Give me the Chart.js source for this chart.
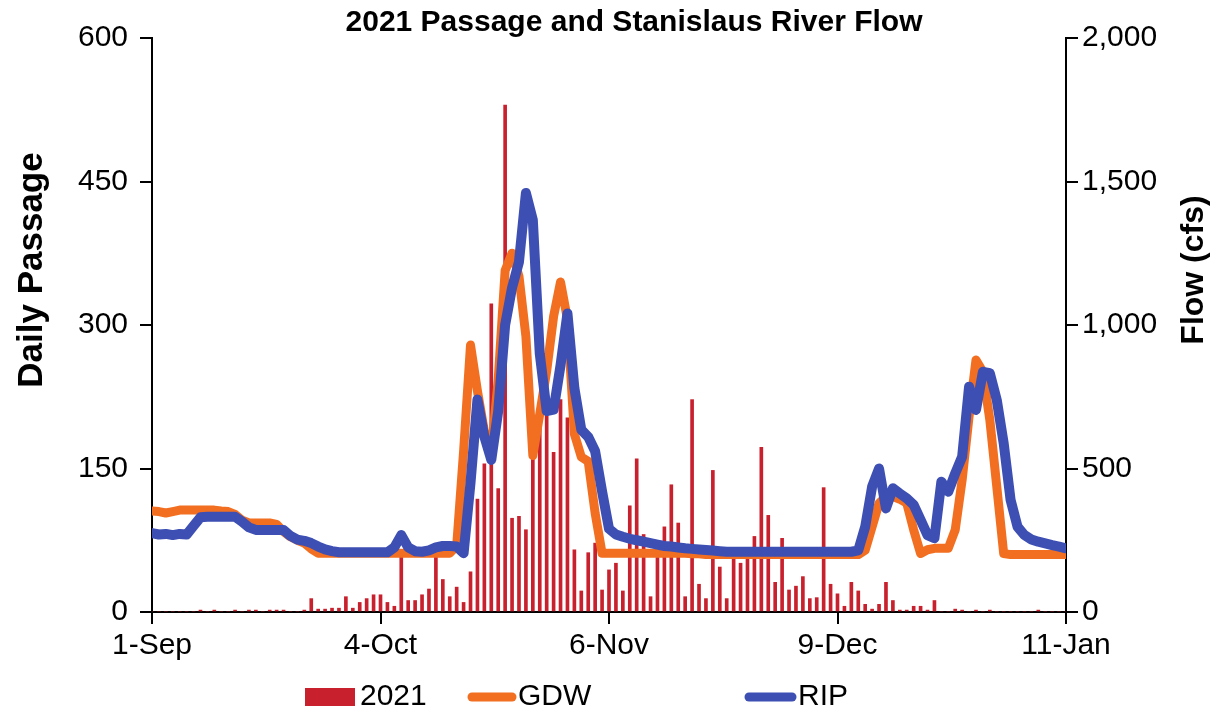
<!DOCTYPE html>
<html>
<head>
<meta charset="utf-8">
<script src="https://cdn.jsdelivr.net/npm/chart.js@4.4.1/dist/chart.umd.min.js"></script>
<style>
  html, body { margin: 0; padding: 0; background: #fff; }
  #wrap { width: 1217px; height: 715px; }
</style>
</head>
<body>
<div id="wrap"><canvas id="flowChart" width="1217" height="715"></canvas></div>
<script>
// x axis is days since 1-Sep (0..132)
const tickDays = [0, 33, 66, 99, 132];
const tickLabels = ['1-Sep', '4-Oct', '6-Nov', '9-Dec', '11-Jan'];

// daily passage (left axis)
const passage2021 = [
  0, 0, 0, 0, 0, 0, 0, 2, 0, 2,
  0, 0, 2, 0, 2, 2, 0, 2, 2, 2,
  0, 0, 2, 14, 3, 3, 4, 4, 16, 4,
  10, 14, 18, 18, 10, 6, 65, 12, 12, 18,
  24, 62, 34, 16, 26, 10, 42, 118, 155, 322,
  129, 530, 98, 100, 86, 162, 200, 208, 167, 222,
  203, 65, 22, 62, 72, 23, 44, 51, 22, 111,
  160, 81, 16, 57, 89, 133, 93, 16, 222, 29,
  14, 148, 47, 14, 57, 51, 57, 79, 172, 101,
  31, 77, 23, 27, 37, 14, 15, 130, 29, 19,
  6, 31, 22, 8, 3, 8, 31, 12, 2, 2,
  6, 6, 2, 12, 0, 0, 3, 2, 0, 2,
  0, 2, 0, 0, 0, 0, 0, 0, 2, 0,
  0, 0, 0
];

// river flow, cfs (right axis)
const gdwFlow = [
  352, 350, 345, 350, 355, 355, 355, 355, 355, 355,
  352, 350, 340, 320, 310, 310, 310, 310, 305, 280,
  262, 250, 240, 220, 205, 205, 205, 205, 205, 205,
  205, 205, 205, 205, 205, 205, 205, 205, 205, 205,
  205, 205, 205, 205, 230, 560, 930, 770, 630, 555,
  810, 1190, 1250, 1170, 960, 545, 690, 840, 1030, 1150,
  1020, 620, 540, 525, 344, 205, 205, 205, 205, 205,
  205, 205, 205, 205, 205, 205, 205, 205, 203, 203,
  200, 200, 200, 200, 200, 200, 200, 200, 200, 200,
  200, 200, 200, 200, 200, 200, 200, 200, 200, 200,
  200, 200, 200, 215, 297, 379, 402, 402, 393, 379,
  286, 204, 217, 222, 222, 222, 286, 460, 681, 878,
  837, 669, 437, 204, 200, 200, 200, 200, 200, 200,
  200, 200, 200
];

const ripFlow = [
  275, 270, 272, 268, 272, 270, 300, 330, 332, 332,
  332, 332, 332, 315, 295, 286, 286, 286, 286, 286,
  265, 252, 248, 240, 228, 218, 212, 208, 208, 208,
  208, 208, 208, 208, 208, 225, 268, 225, 212, 210,
  215, 225, 230, 230, 228, 205, 450, 740, 611, 530,
  700, 1000, 1130, 1220, 1460, 1366, 900, 700, 705, 860,
  1040, 780, 635, 610, 560, 420, 290, 270, 262, 255,
  250, 245, 240, 235, 230, 228, 225, 222, 220, 218,
  216, 214, 212, 210, 210, 210, 210, 210, 210, 210,
  210, 210, 210, 210, 210, 210, 210, 210, 210, 210,
  210, 210, 215, 297, 437, 500, 361, 431, 413, 396,
  373, 321, 268, 257, 454, 419, 483, 541, 785, 704,
  837, 832, 739, 588, 390, 297, 268, 253, 245, 239,
  233, 228, 222
];

const chartTitle = '2021 Passage and Stanislaus River Flow';
const leftTitle = 'Daily Passage';
const rightTitle = 'Flow (cfs)';

const tickFont = { family: '"Liberation Sans Narrow", "Arial Narrow", "Liberation Sans", Arial, sans-serif', size: 30 };

const toPoints = arr => arr.map((v, i) => ({ x: i, y: v }));

// title, axis titles and legend drawn as text on top
const textPlugin = {
  id: 'textPlugin',
  afterDraw(chart) {
    const ctx = chart.ctx;
    const ds = chart.data.datasets;
    ctx.save();
    ctx.fillStyle = '#000';
    ctx.textBaseline = 'middle';

    ctx.textAlign = 'center';
    ctx.font = 'bold 30px "Liberation Sans", Arial, sans-serif';
    ctx.fillText(chartTitle, 634, 23);

    ctx.save();
    ctx.translate(32, 270);
    ctx.rotate(-Math.PI / 2);
    ctx.font = 'bold 35px "Liberation Sans", Arial, sans-serif';
    ctx.fillText(leftTitle, 0, 0);
    ctx.restore();

    ctx.save();
    ctx.translate(1194, 270);
    ctx.rotate(-Math.PI / 2);
    ctx.font = 'bold 32px "Liberation Sans", Arial, sans-serif';
    ctx.fillText(rightTitle, 0, 0);
    ctx.restore();

    // legend
    const ly = 697;
    ctx.textAlign = 'left';
    ctx.font = '30px ' + tickFont.family;
    ctx.fillStyle = ds[0].backgroundColor;
    ctx.fillRect(305, ly - 9, 50, 18);
    ctx.fillStyle = '#000';
    ctx.fillText(ds[0].label, 360, ly);

    ctx.lineCap = 'round';
    ctx.lineWidth = 9;
    ctx.strokeStyle = ds[1].borderColor;
    ctx.beginPath(); ctx.moveTo(472, ly); ctx.lineTo(512, ly); ctx.stroke();
    ctx.fillText(ds[1].label, 518, ly);

    ctx.strokeStyle = ds[2].borderColor;
    ctx.beginPath(); ctx.moveTo(749, ly); ctx.lineTo(792, ly); ctx.stroke();
    ctx.fillText(ds[2].label, 798, ly);
    ctx.restore();
  }
};

new Chart(document.getElementById('flowChart'), {
  type: 'bar',
  data: {
    datasets: [
      {
        label: '2021',
        data: toPoints(passage2021),
        backgroundColor: '#c8202c',
        barThickness: 3,
        yAxisID: 'y',
        order: 3
      },
      {
        type: 'line',
        label: 'GDW',
        data: toPoints(gdwFlow),
        borderColor: '#f26f21',
        borderWidth: 9,
        pointRadius: 0,
        tension: 0,
        borderJoinStyle: 'round',
        borderCapStyle: 'round',
        yAxisID: 'y1',
        order: 2
      },
      {
        type: 'line',
        label: 'RIP',
        data: toPoints(ripFlow),
        borderColor: '#3d4fb3',
        borderWidth: 10,
        pointRadius: 0,
        tension: 0,
        borderJoinStyle: 'round',
        borderCapStyle: 'round',
        yAxisID: 'y1',
        order: 1
      }
    ]
  },
  options: {
    responsive: false,
    animation: false,
    layout: { padding: { top: 38, left: 0, right: 0, bottom: 0 } },
    plugins: {
      legend: { display: false },
      title: { display: false },
      tooltip: { enabled: false }
    },
    scales: {
      x: {
        type: 'linear',
        min: 0,
        max: 132,
        offset: false,
        afterFit: s => { s.height = 103; },
        afterBuildTicks: s => { s.ticks = tickDays.map(v => ({ value: v })); },
        ticks: {
          autoSkip: false,
          maxRotation: 0,
          padding: 4,
          color: '#000',
          font: tickFont,
          callback: v => tickLabels[tickDays.indexOf(v)]
        },
        grid: { drawOnChartArea: false, offset: false, tickLength: 12, color: '#000', lineWidth: 2 },
        border: { color: '#000', width: 2 }
      },
      y: {
        position: 'left',
        min: 0,
        max: 600,
        afterFit: s => { s.width = 152; },
        ticks: { stepSize: 150, padding: 12, color: '#000', font: tickFont },
        grid: { drawOnChartArea: false, tickLength: 12, color: '#000', lineWidth: 2 },
        border: { color: '#000', width: 2 }
      },
      y1: {
        position: 'right',
        min: 0,
        max: 2000,
        afterFit: s => { s.width = 151; },
        ticks: { stepSize: 500, padding: 4, color: '#000', font: tickFont },
        grid: { drawOnChartArea: false, tickLength: 12, color: '#000', lineWidth: 2 },
        border: { color: '#000', width: 2 }
      }
    }
  },
  plugins: [textPlugin]
});
</script>
</body>
</html>
